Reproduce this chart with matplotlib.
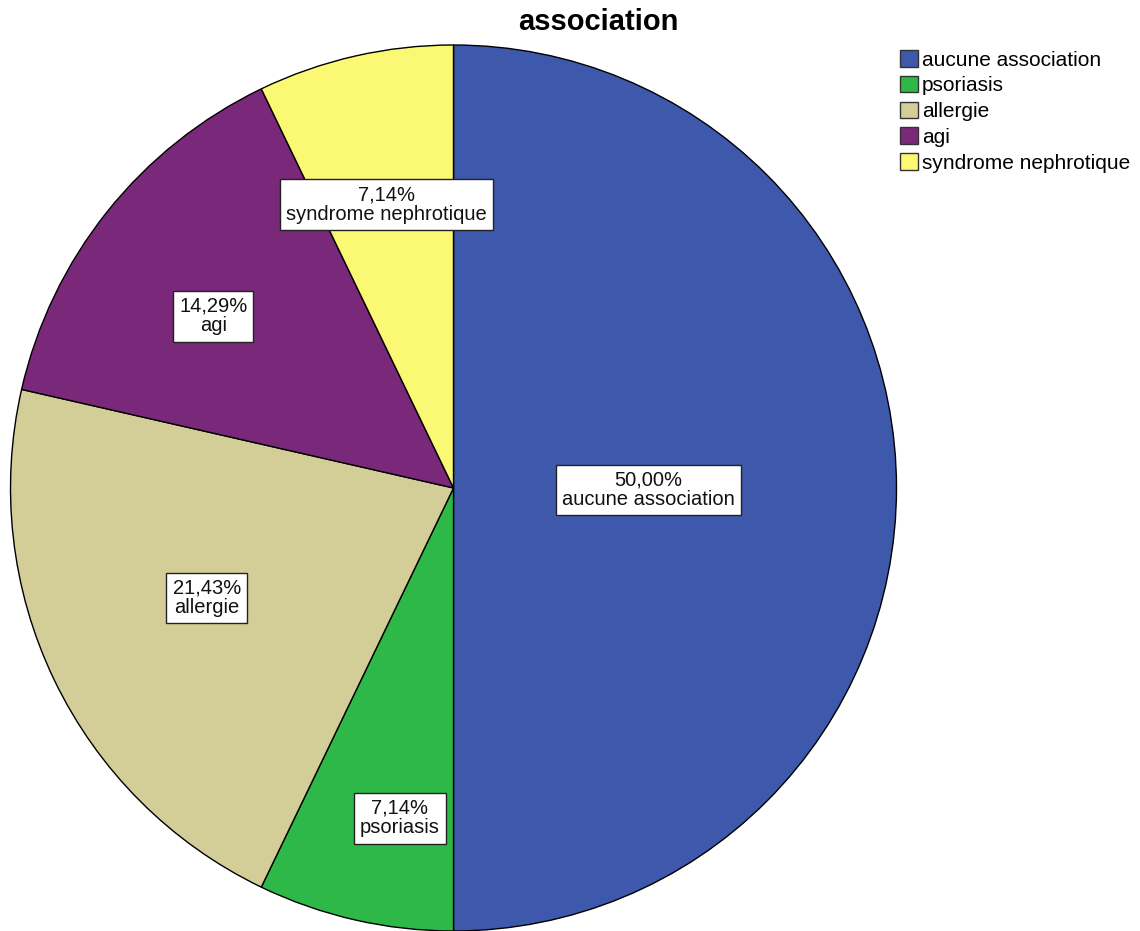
import matplotlib
matplotlib.use("Agg")
import matplotlib.pyplot as plt
import numpy as np

categories = ["aucune association", "psoriasis", "allergie", "agi", "syndrome nephrotique"]
counts = [7, 1, 3, 2, 1]
pct_labels = ["50,00%", "7,14%", "21,43%", "14,29%", "7,14%"]
colors = ["#3E58AC", "#2EB848", "#D3CE97", "#7A287A", "#FBF873"]
label_radius = [0.44, 0.755, 0.61, 0.667, 0.657]
label_angle_shift = [-0.6, 3.6, -1.7, 3.0, 0.4]

plt.rcParams['font.family'] = ['Liberation Sans', 'DejaVu Sans']

fig = plt.figure(figsize=(11.4, 9.31), dpi=100)
ax = fig.add_axes([(453.5 - 443) / 1140, (443 - 443) / 931, 886 / 1140, 886 / 931])
wedges, _ = ax.pie(counts, colors=colors, startangle=90, counterclock=False,
                   wedgeprops=dict(edgecolor="black", linewidth=1.0), radius=1.0)
ax.set_xlim(-1.0, 1.0)
ax.set_ylim(-1.0, 1.0)
ax.set_aspect("equal")
ax.axis("off")

for w, cat, pct, r, da in zip(wedges, categories, pct_labels, label_radius, label_angle_shift):
    mid = np.deg2rad((w.theta1 + w.theta2) / 2 + da)
    ax.text(r * np.cos(mid), r * np.sin(mid), f"{pct}\n{cat}", ha="center", va="center",
            fontsize=14.5, linespacing=1.05, color="#111111",
            bbox=dict(boxstyle="square,pad=0.3", facecolor="white", edgecolor="#222222", linewidth=1.0))

fig.text(598 / 1140, 1 - 22 / 931, "association", ha="center", va="center",
         fontsize=21, fontweight="bold")

leg = fig.legend(wedges, categories, loc="upper left", bbox_to_anchor=(900 / 1140, 1 - 50 / 931),
                 frameon=False, fontsize=15, handlelength=0.85, handleheight=0.85,
                 handletextpad=0.2, labelspacing=0.3, borderaxespad=0, borderpad=0)
for h in leg.legend_handles:
    h.set_edgecolor("#333333")
    h.set_linewidth(1.0)

fig.savefig("out.png", dpi=100)
